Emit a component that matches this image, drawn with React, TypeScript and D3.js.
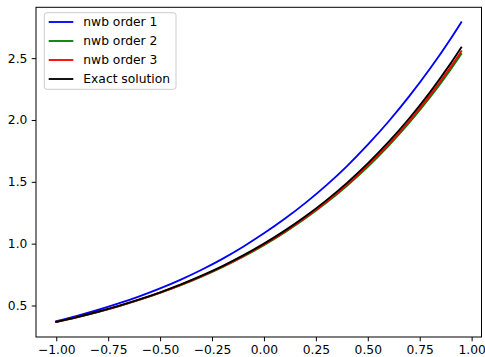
import * as d3 from "d3";
import React, { useEffect, useRef } from "react";

// values
const xs = [-1.0, -0.9, -0.8, -0.7, -0.6, -0.5, -0.4, -0.3, -0.2, -0.1, 0.0,
  0.1, 0.2, 0.3, 0.4, 0.5, 0.6, 0.7, 0.8, 0.9, 0.95];
const order1 = [0.3734, 0.416, 0.4635, 0.5163, 0.5741, 0.6383, 0.7096, 0.789,
  0.8772, 0.9753, 1.0833, 1.2008, 1.3298, 1.4711, 1.6275, 1.8004, 1.9877,
  2.1924, 2.4157, 2.6592, 2.7899];
const order2 = [0.3664, 0.4046, 0.4468, 0.4934, 0.5448, 0.6016, 0.6643, 0.7336,
  0.81, 0.8945, 0.9878, 1.0908, 1.2045, 1.3301, 1.4687, 1.6218, 1.7909, 1.9777,
  2.1837, 2.4114, 2.534];
const order3 = [0.3672, 0.4056, 0.448, 0.4949, 0.5466, 0.6037, 0.6669, 0.7367,
  0.8137, 0.8988, 0.9929, 1.0968, 1.2114, 1.3382, 1.4781, 1.6327, 1.8035,
  1.9922, 2.2006, 2.4308, 2.5547];
const exact = [0.3679, 0.4066, 0.4493, 0.4966, 0.5488, 0.6065, 0.6703, 0.7408,
  0.8187, 0.9048, 1.0, 1.1052, 1.2214, 1.3499, 1.4918, 1.6487, 1.8221, 2.0138,
  2.2255, 2.4596, 2.5857];

const seriesNames = ["nwb order 1", "nwb order 2", "nwb order 3", "Exact solution"];
const seriesColors = ["blue", "green", "red", "black"];
const xTicks = [-1, -0.75, -0.5, -0.25, 0, 0.25, 0.5, 0.75, 1];
const yTicks = [0.5, 1.0, 1.5, 2.0, 2.5];

const W = 485;
const H = 357;
const FONT = "DejaVu Sans";
const FS = 12.3;

const App = () => {
  const svgRef = useRef<SVGSVGElement>(null);

  useEffect(() => {
    const svg = d3.select(svgRef.current);
    svg.selectAll("*").remove();

    const series = [order1, order2, order3, exact];
    const all = series.flat();
    const yMin = d3.min(all)!;
    const yMax = d3.max(all)!;
    const yPad = (yMax - yMin) * 0.05;
    const xPad = (xs[xs.length - 1] - xs[0]) * 0.05;

    const left = 36, right = 481.5, top = 7.3, bottom = 337;

    const x = d3.scaleLinear()
      .domain([xs[0] - xPad, xs[xs.length - 1] + xPad])
      .range([left, right]);
    const y = d3.scaleLinear()
      .domain([yMin - yPad, yMax + yPad])
      .range([bottom, top]);

    svg.append("rect")
      .attr("width", W).attr("height", H).attr("fill", "white");

    // lines
    const line = d3.line<number>()
      .x((_, i) => x(xs[i]))
      .y((d) => y(d))
      .curve(d3.curveMonotoneX);

    series.forEach((s, k) => {
      svg.append("path")
        .datum(s)
        .attr("d", line)
        .attr("fill", "none")
        .attr("stroke", seriesColors[k])
        .attr("stroke-width", 1.85)
        .attr("stroke-linecap", "square");
    });

    // frame
    svg.append("rect")
      .attr("x", left).attr("y", top)
      .attr("width", right - left).attr("height", bottom - top)
      .attr("fill", "none").attr("stroke", "black").attr("stroke-width", 1);

    // x axis
    const xAxis = d3.axisBottom(x)
      .tickValues(xTicks)
      .tickFormat(d3.format(".2f"))
      .tickSize(4.3)
      .tickPadding(4.3);
    const gx = svg.append("g")
      .attr("transform", `translate(0,${bottom})`)
      .call(xAxis);
    gx.select(".domain").remove();
    gx.selectAll("text").attr("font-family", FONT).attr("font-size", FS)
      .attr("fill", "black").attr("dy", "0.72em");

    // y axis
    const yAxis = d3.axisLeft(y)
      .tickValues(yTicks)
      .tickFormat(d3.format(".1f"))
      .tickSize(4.3)
      .tickPadding(4.3);
    const gy = svg.append("g")
      .attr("transform", `translate(${left},0)`)
      .call(yAxis);
    gy.select(".domain").remove();
    gy.selectAll("text").attr("font-family", FONT).attr("font-size", FS)
      .attr("fill", "black");

    // legend
    const lg = svg.append("g");
    lg.append("rect")
      .attr("x", 44.3).attr("y", 12.7)
      .attr("width", 131.7).attr("height", 76.6)
      .attr("rx", 2.5)
      .attr("fill", "white").attr("fill-opacity", 0.8)
      .attr("stroke", "#cccccc").attr("stroke-width", 1);

    seriesNames.forEach((name, i) => {
      const yy = 22 + i * 19;
      lg.append("line")
        .attr("x1", 48.7).attr("x2", 73.3)
        .attr("y1", yy).attr("y2", yy)
        .attr("stroke", seriesColors[i]).attr("stroke-width", 1.85);
      lg.append("text")
        .attr("x", 83.3).attr("y", yy + 4.4)
        .attr("font-family", FONT).attr("font-size", FS)
        .attr("fill", "black")
        .text(name);
    });
  }, []);

  return (
    <svg ref={svgRef} width={W} height={H}
      style={{ position: "absolute", left: 0, top: 0 }} />
  );
};

export default App;
